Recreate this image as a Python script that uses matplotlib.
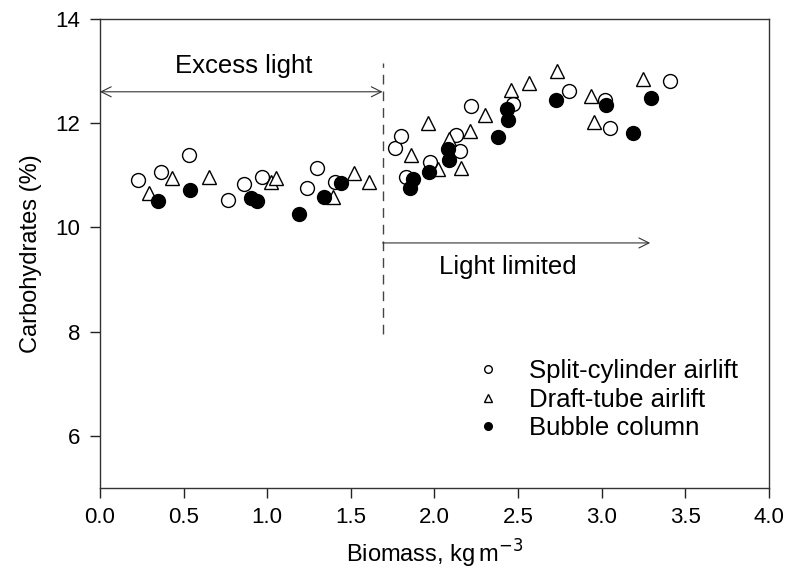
import matplotlib
matplotlib.use("Agg")
import matplotlib.pyplot as plt

plt.rcParams['font.family'] = ['Liberation Sans', 'DejaVu Sans']

split_x = [0.226, 0.365, 0.535, 0.765, 0.860, 0.968, 1.24, 1.30, 1.407,
           1.766, 1.80, 1.832, 1.972, 2.128, 2.15, 2.216, 2.469, 2.802, 3.02, 3.048, 3.407]
split_y = [10.90, 11.06, 11.38, 10.53, 10.83, 10.96, 10.75, 11.14, 10.87,
           11.52, 11.75, 10.96, 11.26, 11.77, 11.47, 12.32, 12.37, 12.62, 12.45, 11.90, 12.80]

draft_x = [0.293, 0.429, 0.653, 1.022, 1.05, 1.393, 1.521, 1.609,
           1.858, 1.964, 2.022, 2.088, 2.158, 2.21, 2.303, 2.455, 2.563, 2.731, 2.934, 2.954, 3.247]
draft_y = [10.65, 10.95, 10.97, 10.87, 10.94, 10.58, 11.04, 10.87,
           11.38, 12.00, 11.11, 11.70, 11.13, 11.84, 12.16, 12.64, 12.77, 13.00, 12.52, 12.02, 12.84]

bubble_x = [0.349, 0.541, 0.904, 0.942, 1.19, 1.341, 1.441,
            1.856, 1.872, 1.966, 2.08, 2.088, 2.381, 2.435, 2.439, 2.728, 3.024, 3.188, 3.293]
bubble_y = [10.51, 10.72, 10.57, 10.51, 10.25, 10.58, 10.85,
            10.75, 10.92, 11.06, 11.50, 11.29, 11.73, 12.27, 12.06, 12.45, 12.35, 11.81, 12.48]

x_ticks = [0.0, 0.5, 1.0, 1.5, 2.0, 2.5, 3.0, 3.5, 4.0]
y_ticks = [6, 8, 10, 12, 14]
boundary_x = 1.69

fig = plt.figure(figsize=(7.87, 5.70), dpi=100)
ax = fig.add_axes([0.127, 0.144, 0.850, 0.823])

ms = 10
ax.plot(split_x, split_y, 'o', ms=ms, mfc='white', mec='black', mew=1.0,
        label='Split-cylinder airlift', zorder=3)
ax.plot(draft_x, draft_y, '^', ms=ms, mfc='white', mec='black', mew=1.0,
        label='Draft-tube airlift', zorder=3)
ax.plot(bubble_x, bubble_y, 'o', ms=ms, mfc='black', mec='black', mew=1.0,
        label='Bubble column', zorder=4)

# boundary dashed line
ax.plot([boundary_x, boundary_x], [7.95, 13.15], color='#444444', lw=1.0,
        dashes=(7, 5), zorder=2)

# arrows
ax.annotate('', xy=(0.0, 12.6), xytext=(boundary_x, 12.6),
            arrowprops=dict(arrowstyle='<->', color='#333333', lw=0.8,
                            shrinkA=0, shrinkB=0, mutation_scale=18))
ax.annotate('', xy=(3.29, 9.70), xytext=(boundary_x, 9.70),
            arrowprops=dict(arrowstyle='->', color='#333333', lw=0.8,
                            shrinkA=0, shrinkB=0, mutation_scale=18))
ax.text(0.86, 13.1, 'Excess light', fontsize=18.5, ha='center', va='center')
ax.text(2.44, 9.23, 'Light limited', fontsize=18.5, ha='center', va='center')

ax.set_xlim(0, 4.0)
ax.set_ylim(5, 14)
ax.set_xticks(x_ticks)
ax.set_xticklabels([f'{v:.1f}' for v in x_ticks])
ax.set_yticks(y_ticks)
ax.tick_params(direction='out', length=7, width=1.0, labelsize=16, pad=7,
               colors='#222222', labelcolor='black')
for s in ax.spines.values():
    s.set_color('#333333')
    s.set_linewidth(1.0)

ax.set_xlabel(r'Biomass, kg$\,$m$^{-3}$', fontsize=17, labelpad=7)
ax.set_ylabel('Carbohydrates (%)', fontsize=17, labelpad=10)

leg = ax.legend(loc='upper left', bbox_to_anchor=(0.552, 0.275), frameon=False,
                fontsize=18.5, markerscale=0.55, handletextpad=0.84,
                labelspacing=0.18, handlelength=1.5, borderpad=0,
                borderaxespad=0)

fig.savefig('out.png', dpi=100)
